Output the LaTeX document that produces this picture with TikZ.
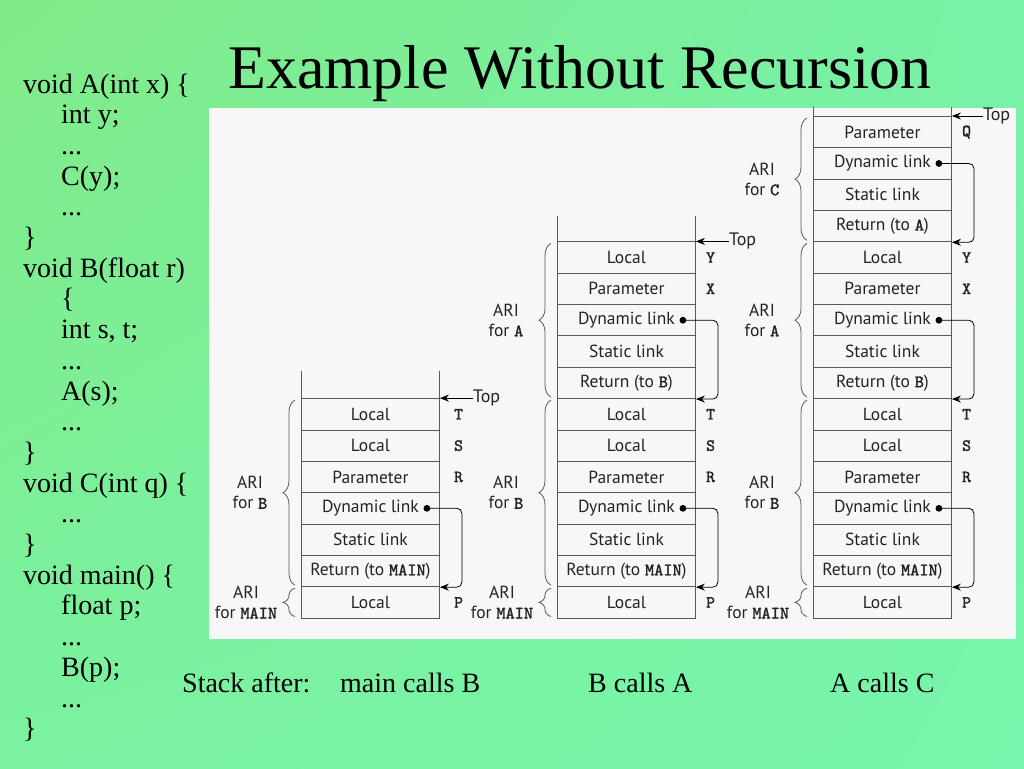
\documentclass[tikz,border=0pt]{standalone}
\usepackage{fontspec}
\setmainfont{Liberation Serif}
\setsansfont{PT Sans}
\setmonofont{lmmono10-regular.otf}[AutoFakeBold=1.6]
\usetikzlibrary{positioning,arrows.meta,decorations.pathreplacing,shadings}

\definecolor{bgul}{RGB}{128,234,136}
\definecolor{bgur}{RGB}{120,242,168}
\definecolor{bgll}{RGB}{122,242,160}
\definecolor{bglr}{RGB}{120,244,172}
\definecolor{panelgray}{RGB}{247,247,247}
\definecolor{linegray}{RGB}{90,90,90}
\definecolor{txtgray}{RGB}{35,35,35}

\newcommand{\codedots}{...}
\newcommand{\vname}[1]{{\ttfamily\bfseries #1}}

\tikzset{
  cell/.style={draw=linegray, line width=0.9pt, minimum width=138pt,
    minimum height=31.35pt, inner sep=0pt, anchor=south west,
    font=\fontsize{17.5}{19}\sffamily, text=txtgray},
  varlbl/.style={font=\fontsize{17}{18}\ttfamily\bfseries, text=txtgray, inner sep=0pt},
  arilbl/.style={font=\fontsize{17.5}{20}\sffamily, text=txtgray, align=center, inner sep=0pt},
  toplbl/.style={font=\fontsize{18}{19}\sffamily, text=txtgray, inner sep=0pt},
  ari/.style={draw=linegray, line width=0.8pt, decorate, decoration={brace, amplitude=12pt}},
  link/.style={draw=black, line width=0.8pt, rounded corners=5pt, -{Stealth[length=9pt,width=7pt]}},
  tail/.style={draw=linegray, line width=0.9pt},
  code/.style={font=\fontsize{28}{30}\selectfont, anchor=base west, inner sep=0pt},
}

\begin{document}
\begin{tikzpicture}[x=1pt,y=-1pt]
\useasboundingbox (0,0) rectangle (1024,768);
% background and white panel
\shade[upper left=bgul, upper right=bgur, lower left=bgll, lower right=bglr] (0,0) rectangle (1024,768);
\fill[panelgray] (209,108) rectangle (1016,639);

% title
\node[font=\fontsize{62}{70}\selectfont, anchor=base, inner sep=0pt] (title) at (580,88) {Example Without Recursion};

% program text
\foreach \ind/\ln [count=\i from 0] in {0/{void A(int x) \{}, 1/{int y;}, 1/{\codedots}, 1/{C(y);}, 1/{\codedots}, 0/{\}},
  0/{void B(float r)}, 1/{\{}, 1/{int s, t;}, 1/{\codedots}, 1/{A(s);}, 1/{\codedots}, 0/{\}},
  0/{void C(int q) \{}, 1/{\codedots}, 0/{\}},
  0/{void main() \{}, 1/{float p;}, 1/{\codedots}, 1/{B(p);}, 1/{\codedots}, 0/{\}}}
  \node[code] (line\i) at (23+\ind*38, 93+\i*30.7) {\ln};

% captions
\node[code] (after) at (182,692) {Stack after:};
\node[code] (capmb) at (340,692) {main calls B};
\node[code] (capba) at (588,692) {B calls A};
\node[code] (capac) at (830,692) {A calls C};

%стек после main calls B
\foreach \txt [count=\i from 0] in {Local, Return (to \vname{MAIN}), Static link, Dynamic link, Parameter, Local, Local}
  \node[cell] (mb-\i) at (301, 618.5-\i*31.35) {\txt};
\foreach \r/\v in {0/P, 4/R, 5/S, 6/T}
  \node[varlbl, right=14pt of mb-\r] (mbv-\r) {\v};
\draw[tail] (mb-6.north west) -- ++(0,-27) (mb-6.north east) -- ++(0,-27);
\node[toplbl, right=33pt of mb-6.north east] (mbtop) {Top};
\draw[link] (mbtop.west) -- (mb-6.north east);
\coordinate (mbd-3) at ([xshift=-13pt]mb-3.east);
\fill (mbd-3) circle (3.4pt);
\draw[link] (mbd-3) -- ++(35,0) |- (mb-1.south east);
\draw[ari] ([xshift=-6pt,yshift=2pt]mb-0.south west) -- ([xshift=-6pt,yshift=-2pt]mb-0.north west)
  node[arilbl, midway, xshift=-49pt] (mbari-0) {ARI\\for \vname{MAIN}};
\draw[ari] ([xshift=-6pt,yshift=2pt]mb-1.south west) -- ([xshift=-6pt,yshift=-2pt]mb-6.north west)
  node[arilbl, midway, xshift=-45pt] (mbari-1) {ARI\\for \vname{B}};

%стек после B calls A
\foreach \txt [count=\i from 0] in {Local, Return (to \vname{MAIN}), Static link, Dynamic link, Parameter, Local, Local,
  Return (to \vname{B}), Static link, Dynamic link, Parameter, Local}
  \node[cell] (ba-\i) at (557, 618.5-\i*31.35) {\txt};
\foreach \r/\v in {0/P, 4/R, 5/S, 6/T, 10/X, 11/Y}
  \node[varlbl, right=10pt of ba-\r] (bav-\r) {\v};
\draw[tail] (ba-11.north west) -- ++(0,-25) (ba-11.north east) -- ++(0,-25);
\node[toplbl, right=33pt of ba-11.north east] (batop) {Top};
\draw[link] (batop.west) -- (ba-11.north east);
\foreach \d/\r in {3/1, 9/7}{
  \coordinate (bad-\d) at ([xshift=-13pt]ba-\d.east);
  \fill (bad-\d) circle (3.4pt);
  \draw[link] (bad-\d) -- ++(35,0) |- (ba-\r.south east);
}
\draw[ari] ([xshift=-6pt,yshift=2pt]ba-0.south west) -- ([xshift=-6pt,yshift=-2pt]ba-0.north west)
  node[arilbl, midway, xshift=-49pt] (baari-0) {ARI\\for \vname{MAIN}};
\draw[ari] ([xshift=-6pt,yshift=2pt]ba-1.south west) -- ([xshift=-6pt,yshift=-2pt]ba-6.north west)
  node[arilbl, midway, xshift=-45pt] (baari-1) {ARI\\for \vname{B}};
\draw[ari] ([xshift=-6pt,yshift=2pt]ba-7.south west) -- ([xshift=-6pt,yshift=-2pt]ba-11.north west)
  node[arilbl, midway, xshift=-45pt] (baari-7) {ARI\\for \vname{A}};

%стек после A calls C
\foreach \txt [count=\i from 0] in {Local, Return (to \vname{MAIN}), Static link, Dynamic link, Parameter, Local, Local,
  Return (to \vname{B}), Static link, Dynamic link, Parameter, Local,
  Return (to \vname{A}), Static link, Dynamic link, Parameter}
  \node[cell] (ac-\i) at (813, 618.5-\i*31.35) {\txt};
\foreach \r/\v in {0/P, 4/R, 5/S, 6/T, 10/X, 11/Y, 15/Q}
  \node[varlbl, right=10pt of ac-\r] (acv-\r) {\v};
\draw[tail] (ac-15.north west) -- ++(0,-9) (ac-15.north east) -- ++(0,-9);
\node[toplbl, right=31pt of ac-15.north east] (actop) {Top};
\draw[link] (actop.west) -- (ac-15.north east);
\foreach \d/\r in {3/1, 9/7, 14/12}{
  \coordinate (acd-\d) at ([xshift=-13pt]ac-\d.east);
  \fill (acd-\d) circle (3.4pt);
  \draw[link] (acd-\d) -- ++(35,0) |- (ac-\r.south east);
}
\draw[ari] ([xshift=-6pt,yshift=2pt]ac-0.south west) -- ([xshift=-6pt,yshift=-2pt]ac-0.north west)
  node[arilbl, midway, xshift=-49pt] (acari-0) {ARI\\for \vname{MAIN}};
\draw[ari] ([xshift=-6pt,yshift=2pt]ac-1.south west) -- ([xshift=-6pt,yshift=-2pt]ac-6.north west)
  node[arilbl, midway, xshift=-45pt] (acari-1) {ARI\\for \vname{B}};
\draw[ari] ([xshift=-6pt,yshift=2pt]ac-7.south west) -- ([xshift=-6pt,yshift=-2pt]ac-11.north west)
  node[arilbl, midway, xshift=-45pt] (acari-7) {ARI\\for \vname{A}};
\draw[ari] ([xshift=-6pt,yshift=2pt]ac-12.south west) -- ([xshift=-6pt,yshift=-2pt]ac-15.north west)
  node[arilbl, midway, xshift=-45pt] (acari-12) {ARI\\for \vname{C}};
\end{tikzpicture}
\end{document}
